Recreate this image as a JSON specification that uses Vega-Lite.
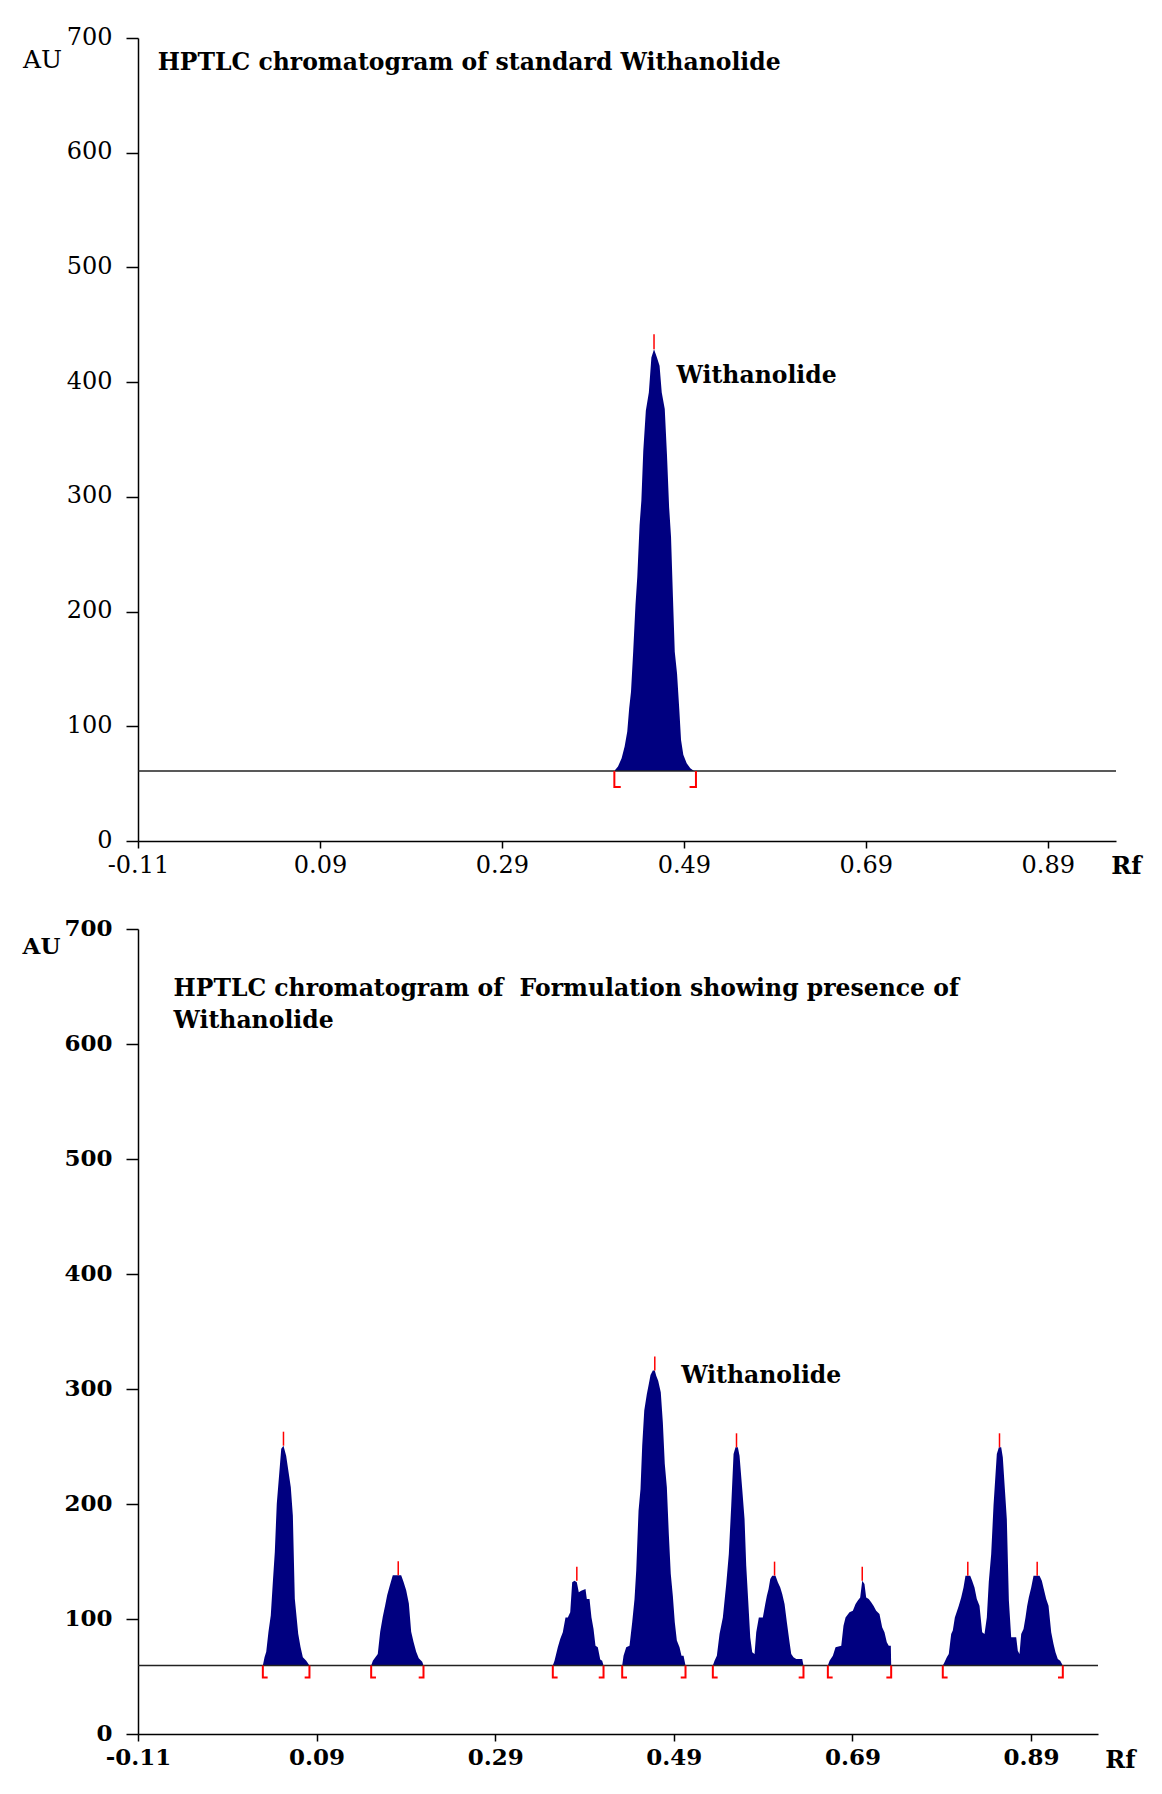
{
  "$schema": "https://vega.github.io/schema/vega-lite/v6.json",
  "background": "white",
  "padding": {"left": 22, "top": 25, "right": 5, "bottom": 5},
  "spacing": 39,
  "config": {
    "view": {"stroke": null},
    "axis": {
      "labelFont": "DejaVu Serif", "labelFontSize": 24, "labelColor": "#000",
      "domainColor": "#000", "tickColor": "#000", "domainWidth": 1.5, "tickWidth": 1.5,
      "grid": false, "labelFlush": false, "labelOverlap": false,
      "titleFont": "DejaVu Serif", "titleFontSize": 24, "titleColor": "#000"
    },
    "axisX": {"tickSize": 7, "labelPadding": 5},
    "axisY": {"tickSize": 12, "labelPadding": 14, "labelOffset": -1}
  },
  "datasets": {
    "topProfile": [
      {"rf": 0.4143, "au": 61}, {"rf": 0.4144, "au": 62}, {"rf": 0.4176, "au": 64.9}, {"rf": 0.4216, "au": 72.2},
      {"rf": 0.4249, "au": 82.3}, {"rf": 0.4278, "au": 95.4}, {"rf": 0.4299, "au": 115.7}, {"rf": 0.4319, "au": 130.2},
      {"rf": 0.4343, "au": 165}, {"rf": 0.4368, "au": 205.5}, {"rf": 0.4388, "au": 230.1}, {"rf": 0.4413, "au": 275.1},
      {"rf": 0.4433, "au": 296.8}, {"rf": 0.4454, "au": 340.3}, {"rf": 0.4482, "au": 375.1}, {"rf": 0.4515, "au": 391},
      {"rf": 0.4543, "au": 421.4}, {"rf": 0.4572, "au": 428.7}, {"rf": 0.4604, "au": 421.4}, {"rf": 0.4633, "au": 414.2},
      {"rf": 0.4657, "au": 391}, {"rf": 0.469, "au": 376.5}, {"rf": 0.4714, "au": 337.4}, {"rf": 0.4738, "au": 291},
      {"rf": 0.4759, "au": 264.9}, {"rf": 0.478, "au": 212.8}, {"rf": 0.48, "au": 165}, {"rf": 0.4825, "au": 146.1},
      {"rf": 0.4849, "au": 115.7}, {"rf": 0.4869, "au": 88.1}, {"rf": 0.4894, "au": 75.1}, {"rf": 0.4931, "au": 67.8},
      {"rf": 0.4971, "au": 63.5}, {"rf": 0.5012, "au": 61}
    ],
    "topBase": [{"base": 61}],
    "topPeaks": [{"rf": 0.4572, "au": 428.7}],
    "topBrackets": [{"rf": 0.4136, "au": 61, "side": "L"}, {"rf": 0.5033, "au": 61, "side": "R"}],
    "topText": [
      {"rf": -0.0884, "au": 672, "label": "HPTLC chromatogram of standard Withanolide"},
      {"rf": 0.482, "au": 399.5, "label": "Withanolide"}
    ],
    "botProfile": [
      {"rf": 0.0298, "au": 59.5}, {"rf": 0.0317, "au": 66.7}, {"rf": 0.0336, "au": 71.6}, {"rf": 0.0361, "au": 88.9},
      {"rf": 0.0387, "au": 103.3}, {"rf": 0.041, "au": 132.2}, {"rf": 0.0432, "au": 158.3}, {"rf": 0.0454, "au": 200.3},
      {"rf": 0.0504, "au": 248}, {"rf": 0.0529, "au": 250.7}, {"rf": 0.0559, "au": 242}, {"rf": 0.0611, "au": 214.5},
      {"rf": 0.0634, "au": 190}, {"rf": 0.0656, "au": 117.7}, {"rf": 0.0694, "au": 87.2}, {"rf": 0.072, "au": 75.7},
      {"rf": 0.0746, "au": 66.7}, {"rf": 0.0784, "au": 63.8}, {"rf": 0.082, "au": 59.5},
      {"rf": 0.1511, "au": 59.5}, {"rf": 0.153, "au": 63.8}, {"rf": 0.1585, "au": 69.6}, {"rf": 0.1612, "au": 88.9},
      {"rf": 0.1641, "au": 101.9}, {"rf": 0.1668, "au": 112}, {"rf": 0.169, "au": 120.7}, {"rf": 0.1716, "au": 128},
      {"rf": 0.1753, "au": 138.1}, {"rf": 0.1847, "au": 138.1}, {"rf": 0.1873, "au": 132.3}, {"rf": 0.1903, "au": 125},
      {"rf": 0.1933, "au": 113.5}, {"rf": 0.1959, "au": 88.9}, {"rf": 0.1985, "au": 80.2}, {"rf": 0.2015, "au": 71.6},
      {"rf": 0.2044, "au": 65.8}, {"rf": 0.2083, "au": 62.9}, {"rf": 0.2097, "au": 59.5},
      {"rf": 0.3545, "au": 59.5}, {"rf": 0.3564, "au": 63.8}, {"rf": 0.3601, "au": 75.4}, {"rf": 0.3628, "au": 82.6},
      {"rf": 0.3657, "au": 88.4}, {"rf": 0.3687, "au": 101.4}, {"rf": 0.3713, "au": 101.4}, {"rf": 0.374, "au": 105.8},
      {"rf": 0.3762, "au": 131.9}, {"rf": 0.3788, "au": 133.3}, {"rf": 0.3814, "au": 131.9}, {"rf": 0.3836, "au": 123.2},
      {"rf": 0.3863, "au": 124.5}, {"rf": 0.3911, "au": 126.1}, {"rf": 0.3926, "au": 117.4}, {"rf": 0.3956, "au": 117.4},
      {"rf": 0.3978, "au": 101.4}, {"rf": 0.4001, "au": 91.3}, {"rf": 0.4023, "au": 76.8}, {"rf": 0.4049, "au": 75.4},
      {"rf": 0.4076, "au": 64.8}, {"rf": 0.4098, "au": 63.8}, {"rf": 0.4113, "au": 59.5},
      {"rf": 0.4322, "au": 59.5}, {"rf": 0.4337, "au": 68.1}, {"rf": 0.4367, "au": 75.4}, {"rf": 0.4404, "au": 76.8},
      {"rf": 0.4434, "au": 97.1}, {"rf": 0.446, "au": 117.4}, {"rf": 0.4479, "au": 142}, {"rf": 0.4505, "au": 194.2},
      {"rf": 0.4527, "au": 213}, {"rf": 0.4546, "au": 250.7}, {"rf": 0.4569, "au": 281.2}, {"rf": 0.4598, "au": 295.7},
      {"rf": 0.462, "au": 304.3}, {"rf": 0.4639, "au": 312.2}, {"rf": 0.4665, "au": 316}, {"rf": 0.4687, "au": 316},
      {"rf": 0.4703, "au": 311.6}, {"rf": 0.4725, "au": 307.2}, {"rf": 0.4754, "au": 297.1}, {"rf": 0.4777, "au": 271},
      {"rf": 0.4799, "au": 234.8}, {"rf": 0.4822, "au": 214.5}, {"rf": 0.4844, "au": 173.9}, {"rf": 0.4866, "au": 139.1},
      {"rf": 0.4889, "au": 120.3}, {"rf": 0.4911, "au": 97.1}, {"rf": 0.4934, "au": 81.2}, {"rf": 0.4964, "au": 75.4},
      {"rf": 0.4986, "au": 68.1}, {"rf": 0.5009, "au": 68.1}, {"rf": 0.5031, "au": 59.5},
      {"rf": 0.5337, "au": 59.5}, {"rf": 0.5356, "au": 63.8}, {"rf": 0.5382, "au": 68.1}, {"rf": 0.5412, "au": 87},
      {"rf": 0.5449, "au": 101.4}, {"rf": 0.5487, "au": 130.4}, {"rf": 0.5516, "au": 156.5}, {"rf": 0.5543, "au": 198.6},
      {"rf": 0.5569, "au": 243.5}, {"rf": 0.5591, "au": 249.3}, {"rf": 0.5617, "au": 249.3}, {"rf": 0.5636, "au": 242},
      {"rf": 0.5666, "au": 213}, {"rf": 0.5692, "au": 187}, {"rf": 0.5711, "au": 146.4}, {"rf": 0.5733, "au": 116},
      {"rf": 0.5756, "au": 84}, {"rf": 0.5778, "au": 71}, {"rf": 0.5804, "au": 69.6}, {"rf": 0.5823, "au": 88.4},
      {"rf": 0.5852, "au": 101.4}, {"rf": 0.5897, "au": 101.4}, {"rf": 0.5924, "au": 113}, {"rf": 0.5942, "au": 120.3},
      {"rf": 0.5961, "au": 126.1}, {"rf": 0.598, "au": 134.8}, {"rf": 0.6002, "au": 137.7}, {"rf": 0.6039, "au": 137.7},
      {"rf": 0.6065, "au": 131.9}, {"rf": 0.6092, "au": 127.5}, {"rf": 0.6114, "au": 121.7}, {"rf": 0.614, "au": 113},
      {"rf": 0.6166, "au": 97.1}, {"rf": 0.6196, "au": 79.7}, {"rf": 0.6215, "au": 69.6}, {"rf": 0.624, "au": 66.7},
      {"rf": 0.6271, "au": 65.2}, {"rf": 0.6338, "au": 65.2}, {"rf": 0.6352, "au": 59.5},
      {"rf": 0.6625, "au": 59.5}, {"rf": 0.6644, "au": 63.8}, {"rf": 0.6681, "au": 68.1}, {"rf": 0.6711, "au": 75.4},
      {"rf": 0.6775, "au": 76.8}, {"rf": 0.68, "au": 94.2}, {"rf": 0.6823, "au": 101.4}, {"rf": 0.6867, "au": 105.8},
      {"rf": 0.6905, "au": 107.2}, {"rf": 0.6935, "au": 113}, {"rf": 0.6961, "au": 116}, {"rf": 0.6987, "au": 118.8},
      {"rf": 0.701, "au": 133.3}, {"rf": 0.7035, "au": 130.4}, {"rf": 0.7054, "au": 118.8}, {"rf": 0.7083, "au": 117.4},
      {"rf": 0.711, "au": 114.5}, {"rf": 0.7136, "au": 111.6}, {"rf": 0.7166, "au": 107.2}, {"rf": 0.7203, "au": 104.3},
      {"rf": 0.7233, "au": 92.8}, {"rf": 0.7259, "au": 88.4}, {"rf": 0.7285, "au": 79.7}, {"rf": 0.7307, "au": 76.8},
      {"rf": 0.733, "au": 76.8}, {"rf": 0.7334, "au": 59.5},
      {"rf": 0.7912, "au": 59.5}, {"rf": 0.7931, "au": 62.3}, {"rf": 0.7957, "au": 66.7}, {"rf": 0.7979, "au": 69.6},
      {"rf": 0.8006, "au": 87}, {"rf": 0.8024, "au": 89.9}, {"rf": 0.8047, "au": 101.4}, {"rf": 0.8091, "au": 111.6},
      {"rf": 0.8118, "au": 118.8}, {"rf": 0.8144, "au": 127.5}, {"rf": 0.8166, "au": 137.7}, {"rf": 0.8219, "au": 137.7},
      {"rf": 0.8241, "au": 133.3}, {"rf": 0.8267, "au": 127.5}, {"rf": 0.8293, "au": 117.4}, {"rf": 0.8323, "au": 111.6},
      {"rf": 0.8353, "au": 88.4}, {"rf": 0.8379, "au": 87}, {"rf": 0.8405, "au": 101.4}, {"rf": 0.8427, "au": 132.2},
      {"rf": 0.8454, "au": 156.5}, {"rf": 0.848, "au": 198.6}, {"rf": 0.8517, "au": 243.5}, {"rf": 0.854, "au": 249.3},
      {"rf": 0.8566, "au": 249.3}, {"rf": 0.8584, "au": 240.6}, {"rf": 0.8607, "au": 213}, {"rf": 0.8629, "au": 187},
      {"rf": 0.8652, "au": 116}, {"rf": 0.8678, "au": 84.1}, {"rf": 0.8734, "au": 84.1}, {"rf": 0.8752, "au": 72.5},
      {"rf": 0.8771, "au": 69.6}, {"rf": 0.879, "au": 87}, {"rf": 0.8816, "au": 91.3}, {"rf": 0.8838, "au": 101.4},
      {"rf": 0.8857, "au": 111.6}, {"rf": 0.8875, "au": 118.8}, {"rf": 0.8902, "au": 127.5}, {"rf": 0.8928, "au": 137.7},
      {"rf": 0.8995, "au": 137.7}, {"rf": 0.9021, "au": 133.3}, {"rf": 0.9043, "au": 126.1}, {"rf": 0.907, "au": 117.4},
      {"rf": 0.9096, "au": 111.6}, {"rf": 0.9126, "au": 88.4}, {"rf": 0.9152, "au": 78.3}, {"rf": 0.9174, "au": 71},
      {"rf": 0.92, "au": 65.2}, {"rf": 0.9227, "au": 63.8}, {"rf": 0.9256, "au": 59.5}
    ],
    "botBase": [{"base": 59.5}],
    "botPeaks": [
      {"rf": 0.0529, "au": 250.7}, {"rf": 0.1814, "au": 138.1}, {"rf": 0.3814, "au": 133.3}, {"rf": 0.4687, "au": 316},
      {"rf": 0.5602, "au": 249.3}, {"rf": 0.6028, "au": 137.7}, {"rf": 0.701, "au": 133.3}, {"rf": 0.8192, "au": 137.7},
      {"rf": 0.8547, "au": 249.3}, {"rf": 0.8969, "au": 137.7}
    ],
    "botBrackets": [
      {"rf": 0.0298, "au": 59.5, "side": "L"}, {"rf": 0.082, "au": 59.5, "side": "R"},
      {"rf": 0.1511, "au": 59.5, "side": "L"}, {"rf": 0.2097, "au": 59.5, "side": "R"},
      {"rf": 0.3545, "au": 59.5, "side": "L"}, {"rf": 0.4113, "au": 59.5, "side": "R"},
      {"rf": 0.4322, "au": 59.5, "side": "L"}, {"rf": 0.5031, "au": 59.5, "side": "R"},
      {"rf": 0.5337, "au": 59.5, "side": "L"}, {"rf": 0.6352, "au": 59.5, "side": "R"},
      {"rf": 0.6625, "au": 59.5, "side": "L"}, {"rf": 0.7334, "au": 59.5, "side": "R"},
      {"rf": 0.7912, "au": 59.5, "side": "L"}, {"rf": 0.9256, "au": 59.5, "side": "R"}
    ],
    "botText": [
      {"rf": -0.0702, "au": 642, "label": "HPTLC chromatogram of \u00a0Formulation showing presence of"},
      {"rf": -0.0702, "au": 614, "label": "Withanolide"},
      {"rf": 0.4982, "au": 305, "label": "Withanolide"}
    ]
  },
  "vconcat": [
    {
      "width": 978,
      "height": 803,
      "layer": [
        {
          "data": {"name": "topProfile"},
          "mark": {"type": "area", "color": "#000080", "interpolate": "linear"},
          "encoding": {
            "x": {"field": "rf", "type": "quantitative",
              "scale": {"domain": [-0.11, 0.965], "nice": false, "zero": false},
              "axis": {"values": [-0.11, 0.09, 0.29, 0.49, 0.69, 0.89], "format": ".2f", "labelExpr": "replace(datum.label, '\u2212', '-')", "title": "Rf",
                "titleAngle": 0, "titleX": 988, "titleY": 25, "titleAlign": "center", "titleBaseline": "middle", "titleFontWeight": "bold", "titleFontSize": 24}},
            "y": {"field": "au", "type": "quantitative",
              "scale": {"domain": [0, 700], "nice": false},
              "axis": {"values": [0, 100, 200, 300, 400, 500, 600, 700], "title": "AU",
                "titleAngle": 0, "titleX": -96, "titleY": 21, "titleAlign": "center", "titleBaseline": "middle", "titleFontWeight": "normal", "titleFontSize": 25}},
            "y2": {"datum": 61}
          }
        },
        {
          "data": {"name": "topBase"},
          "mark": {"type": "rule", "color": "#222", "strokeWidth": 1.5},
          "encoding": {"y": {"field": "base", "type": "quantitative"}}
        },
        {
          "data": {"name": "topPeaks"},
          "mark": {"type": "point", "shape": "M0,0L0,-2", "size": 225, "filled": false, "stroke": "#ff0000", "strokeWidth": 1.5, "opacity": 1},
          "encoding": {"x": {"field": "rf", "type": "quantitative"}, "y": {"field": "au", "type": "quantitative"}}
        },
        {
          "data": {"name": "topBrackets"},
          "mark": {"type": "point", "size": 256, "filled": false, "stroke": "#ff0000", "strokeWidth": 2, "opacity": 1},
          "encoding": {
            "x": {"field": "rf", "type": "quantitative"},
            "y": {"field": "au", "type": "quantitative"},
            "shape": {"field": "side", "type": "nominal", "legend": null,
              "scale": {"domain": ["L", "R"], "range": ["M0,0L0,2L0.8,2", "M0,0L0,2L-0.8,2"]}}
          }
        },
        {
          "data": {"name": "topText"},
          "mark": {"type": "text", "align": "left", "baseline": "alphabetic", "font": "DejaVu Serif", "fontWeight": "bold", "fontSize": 23.5, "color": "#000"},
          "encoding": {
            "x": {"field": "rf", "type": "quantitative"},
            "y": {"field": "au", "type": "quantitative"},
            "text": {"field": "label"}
          }
        }
      ]
    },
    {
      "width": 960,
      "height": 805,
      "layer": [
        {
          "data": {"name": "botProfile"},
          "mark": {"type": "area", "color": "#000080", "interpolate": "linear"},
          "encoding": {
            "x": {"field": "rf", "type": "quantitative",
              "scale": {"domain": [-0.11, 0.965], "nice": false, "zero": false},
              "axis": {"values": [-0.11, 0.09, 0.29, 0.49, 0.69, 0.89], "format": ".2f", "labelExpr": "replace(datum.label, '\u2212', '-')", "title": "Rf", "labelFontWeight": "bold", "labelFontSize": 23,
                "titleAngle": 0, "titleX": 982, "titleY": 26, "titleAlign": "center", "titleBaseline": "middle", "titleFontWeight": "bold", "titleFontSize": 24}},
            "y": {"field": "au", "type": "quantitative",
              "scale": {"domain": [0, 700], "nice": false},
              "axis": {"values": [0, 100, 200, 300, 400, 500, 600, 700], "title": "AU", "labelFontWeight": "bold", "labelFontSize": 23,
                "titleAngle": 0, "titleX": -97, "titleY": 17, "titleAlign": "center", "titleBaseline": "middle", "titleFontWeight": "bold", "titleFontSize": 23}},
            "y2": {"datum": 59.5}
          }
        },
        {
          "data": {"name": "botBase"},
          "mark": {"type": "rule", "color": "#222", "strokeWidth": 1.5},
          "encoding": {"y": {"field": "base", "type": "quantitative"}}
        },
        {
          "data": {"name": "botPeaks"},
          "mark": {"type": "point", "shape": "M0,0L0,-2", "size": 196, "filled": false, "stroke": "#ff0000", "strokeWidth": 1.5, "opacity": 1},
          "encoding": {"x": {"field": "rf", "type": "quantitative"}, "y": {"field": "au", "type": "quantitative"}}
        },
        {
          "data": {"name": "botBrackets"},
          "mark": {"type": "point", "size": 144, "filled": false, "stroke": "#ff0000", "strokeWidth": 2, "opacity": 1},
          "encoding": {
            "x": {"field": "rf", "type": "quantitative"},
            "y": {"field": "au", "type": "quantitative"},
            "shape": {"field": "side", "type": "nominal", "legend": null,
              "scale": {"domain": ["L", "R"], "range": ["M0,0L0,2L0.8,2", "M0,0L0,2L-0.8,2"]}}
          }
        },
        {
          "data": {"name": "botText"},
          "mark": {"type": "text", "align": "left", "baseline": "alphabetic", "font": "DejaVu Serif", "fontWeight": "bold", "fontSize": 23.5, "color": "#000"},
          "encoding": {
            "x": {"field": "rf", "type": "quantitative"},
            "y": {"field": "au", "type": "quantitative"},
            "text": {"field": "label"}
          }
        }
      ]
    }
  ]
}
